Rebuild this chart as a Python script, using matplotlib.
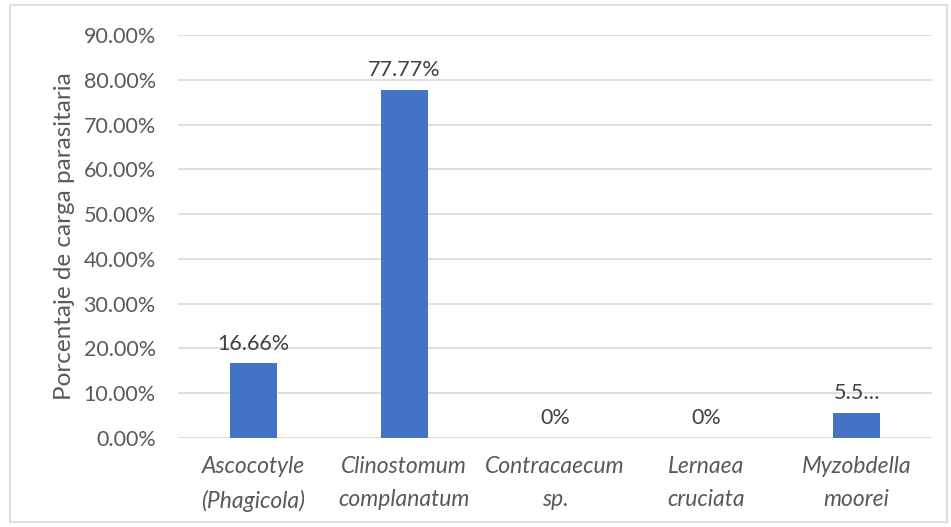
import matplotlib
matplotlib.use("Agg")
import matplotlib.pyplot as plt
from matplotlib.ticker import FuncFormatter
from matplotlib.patches import Rectangle

categories = ["Ascocotyle\n(Phagicola)", "Clinostomum\ncomplanatum", "Contracaecum\nsp.",
              "Lernaea\ncruciata", "Myzobdella\nmoorei"]
values = [16.66, 77.77, 0.0, 0.0, 5.55]
value_labels = ["16.66%", "77.77%", "0%", "0%", "5.5…"]
y_ticks = [0, 10, 20, 30, 40, 50, 60, 70, 80, 90]
y_label = "Porcentaje de carga parasitaria"

plt.rcParams["font.family"] = ["Lato", "DejaVu Sans"]

fig = plt.figure(figsize=(9.51, 5.27), dpi=100)
fig.patches.append(Rectangle((10 / 951, 5 / 527), 937 / 951, 517 / 527,
                             transform=fig.transFigure, fill=False,
                             edgecolor="#d9d9d9", linewidth=1.2))

ax = fig.add_axes([178 / 951, 1 - 438 / 527, 754 / 951, 403 / 527])
x = list(range(len(categories)))
ax.bar(x, values, width=0.31, color="#4472C4", zorder=3)
ax.set_xlim(-0.5, len(categories) - 0.5)
ax.set_ylim(0, 90)
ax.set_yticks(y_ticks)
ax.yaxis.set_major_formatter(FuncFormatter(lambda v, p: f"{v:.2f}%"))
ax.grid(axis="y", color="#d9d9d9", linewidth=1.2, zorder=0)
for s in ax.spines.values():
    s.set_visible(False)
ax.tick_params(axis="y", length=0, labelsize=15.5, labelcolor="#595959", pad=16)
ax.tick_params(axis="x", length=0, labelsize=16.5, labelcolor="#595959", pad=13)
ax.set_xticks(x)
ax.set_xticklabels(categories, style="italic", linespacing=1.7)

for xi, v, lab in zip(x, values, value_labels):
    ax.annotate(lab, (xi, v), xytext=(0, 7), textcoords="offset points",
                ha="center", va="bottom", fontsize=15.5, color="#404040")

ax.set_ylabel(y_label, fontsize=17.5, color="#595959", labelpad=6)

fig.savefig("out.png", dpi=100)
